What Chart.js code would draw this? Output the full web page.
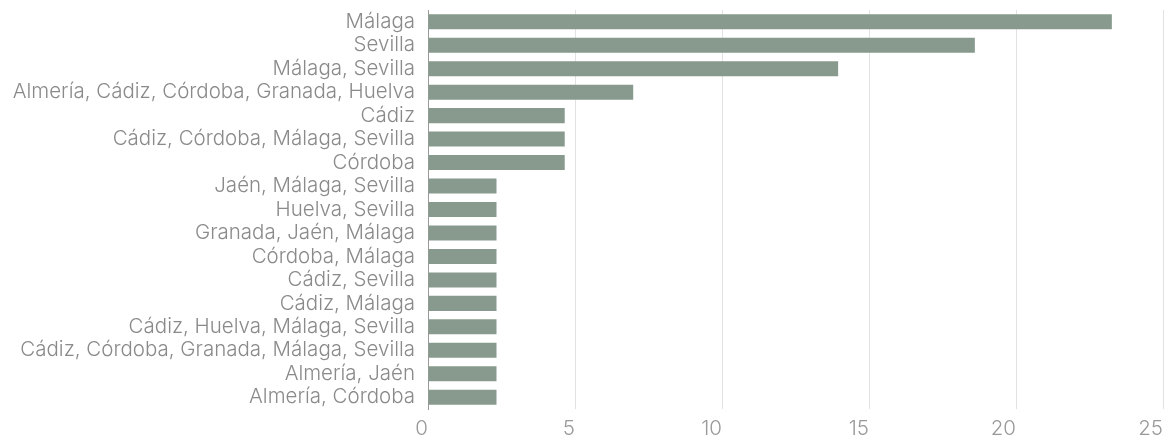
<!DOCTYPE html>
<html>
<head>
<meta charset="utf-8">
<script src="https://cdn.jsdelivr.net/npm/chart.js@4"></script>
<style>
  html, body { margin: 0; padding: 0; background: #fff; }
  #wrap { width: 1168px; height: 441px; }
</style>
</head>
<body>
<div id="wrap"><canvas id="myChart"></canvas></div>
<script>
// provinces (or combinations) and their share in %
const labels = [
  "Málaga",
  "Sevilla",
  "Málaga, Sevilla",
  "Almería, Cádiz, Córdoba, Granada, Huelva",
  "Cádiz",
  "Cádiz, Córdoba, Málaga, Sevilla",
  "Córdoba",
  "Jaén, Málaga, Sevilla",
  "Huelva, Sevilla",
  "Granada, Jaén, Málaga",
  "Córdoba, Málaga",
  "Cádiz, Sevilla",
  "Cádiz, Málaga",
  "Cádiz, Huelva, Málaga, Sevilla",
  "Cádiz, Córdoba, Granada, Málaga, Sevilla",
  "Almería, Jaén",
  "Almería, Córdoba"
];
const shares = [23.26, 18.6, 13.95, 6.98, 4.65, 4.65, 4.65, 2.33, 2.33, 2.33, 2.33, 2.33, 2.33, 2.33, 2.33, 2.33, 2.33];
const xTicks = [0, 5, 10, 15, 20, 25];

const FONT = "Inter, 'Open Sans', sans-serif";

new Chart(document.getElementById("myChart"), {
  type: "bar",
  data: {
    labels: labels,
    datasets: [{
      data: shares,
      backgroundColor: "#879a8d",
      borderWidth: 0,
      categoryPercentage: 1,
      barPercentage: 0.64
    }]
  },
  options: {
    indexAxis: "y",
    responsive: true,
    maintainAspectRatio: false,
    animation: false,
    layout: { padding: { top: 10, right: 5, left: 0, bottom: 0 } },
    plugins: {
      legend: { display: false },
      tooltip: { enabled: false }
    },
    scales: {
      x: {
        min: 0,
        max: 25,
        afterBuildTicks: (scale) => { scale.ticks = xTicks.map(v => ({ value: v })); },
        afterFit: (scale) => { scale.height = 32; scale.paddingLeft = 0; scale.paddingRight = 0; },
        grid: { color: "#e2e2e2", lineWidth: 1, drawTicks: false },
        border: { display: false },
        ticks: {
          padding: 8,
          align: "end",
          color: "#999999",
          font: { family: FONT, size: 20.5, weight: 300 }
        }
      },
      y: {
        // fixed label column, no extra room above/below the first and last rows
        afterFit: (scale) => { scale.width = 428; scale.paddingTop = 0; scale.paddingBottom = 0; },
        grid: { display: false, drawTicks: false },
        border: { display: true, color: "#9a9a9a", width: 1 },
        ticks: {
          padding: 13,
          autoSkip: false,
          color: "#8a8a8a",
          font: { family: FONT, size: 20.5, weight: 300 }
        }
      }
    }
  }
});
</script>
</body>
</html>
